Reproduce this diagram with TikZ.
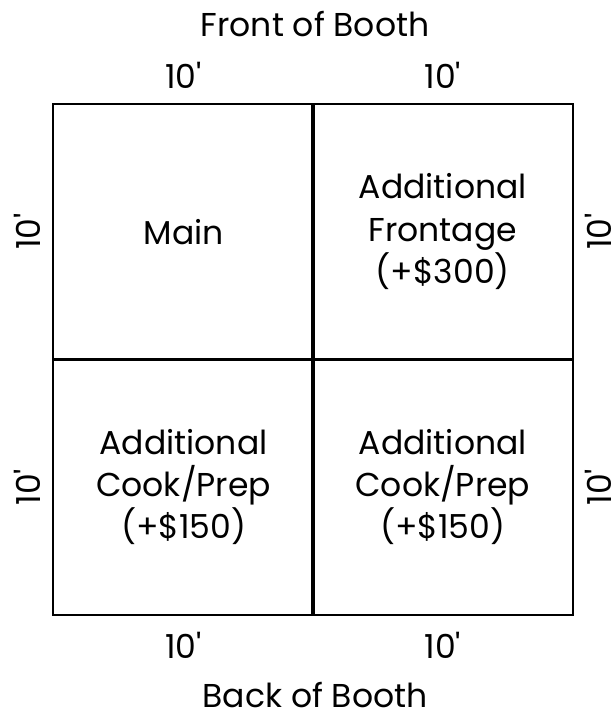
\documentclass[tikz,border=0pt]{standalone}
\usepackage{fontspec}
\setmainfont{Poppins}
\usetikzlibrary{positioning}
\newcommand{\tenft}{10\textquotesingle}
\tikzset{
    cell/.style={
        draw=black,
        line width=1.4pt,
        minimum width=6.525cm,
        minimum height=6.4cm,
        inner sep=0pt,
        align=center,
        font=\fontsize{23.5}{30}\selectfont
    },
    dim label/.style={
        inner sep=0pt,
        anchor=base,
        font=\fontsize{23.5}{30}\selectfont
    },
    side label/.style={
        dim label,
        rotate=90
    },
    booth title/.style={
        inner sep=0pt,
        anchor=base,
        font=\fontsize{23.5}{30}\selectfont
    }
}

\begin{document}
\begin{tikzpicture}
    \useasboundingbox (0,0) rectangle (15.375,-17.85);

    % The four 10' x 10' squares.
    \node[cell] (main) at (4.59,-5.79) {Main};
    \node[cell] (frontage) at (11.07,-5.79) {Additional\\Frontage\\(+\$300)};
    \node[cell] (prepleft) at (4.59,-12.18) {Additional\\Cook/Prep\\(+\$150)};
    \node[cell] (prepright) at (11.07,-12.18) {Additional\\Cook/Prep\\(+\$150)};

    % Dimensions along the front and back.
    \node[dim label, above=0.35cm of main, anchor=base] (topleft) {\tenft};
    \node[dim label, above=0.35cm of frontage, anchor=base] (topright) {\tenft};
    \node[dim label, below=1.05cm of prepleft, anchor=base] (bottomleft) {\tenft};
    \node[dim label, below=1.05cm of prepright, anchor=base] (bottomright) {\tenft};

    % Dimensions along the sides.
    \node[side label, left=0.28cm of main, anchor=base] (sidetl) {\tenft};
    \node[side label, left=0.28cm of prepleft, anchor=base] (sidebl) {\tenft};
    \node[side label, right=0.94cm of frontage, anchor=base] (sidetr) {\tenft};
    \node[side label, right=0.94cm of prepright, anchor=base] (sidebr) {\tenft};

    % Front and back of the booth.
    \node[booth title, above=1.65cm of main.north east, anchor=base] (front) {Front of Booth};
    \node[booth title, below=2.28cm of prepleft.south east, anchor=base] (back) {Back of Booth};

\end{tikzpicture}
\end{document}
